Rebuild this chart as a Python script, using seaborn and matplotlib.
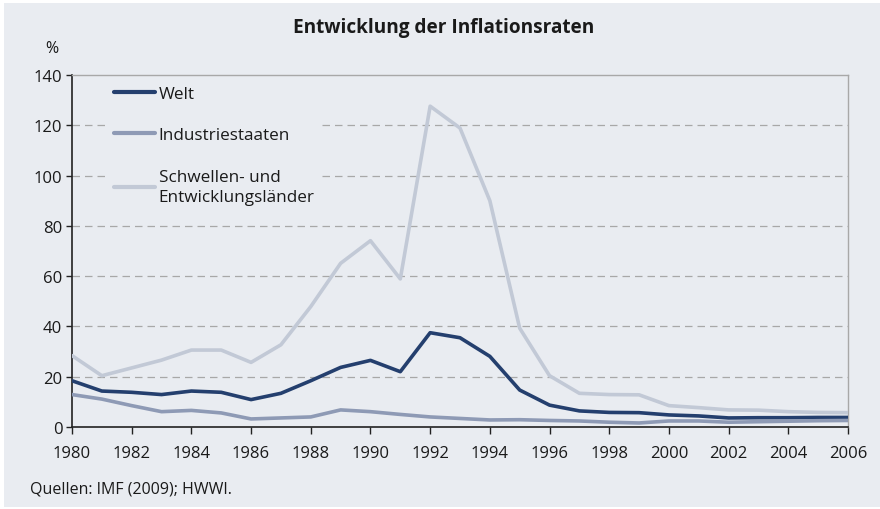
import matplotlib
matplotlib.use("Agg")
import matplotlib.pyplot as plt
import seaborn as sns
import pandas as pd
from matplotlib.patches import Rectangle

years = list(range(1980, 2007))
welt = [18.4, 14.3, 13.8, 12.9, 14.3, 13.8, 10.9, 13.4, 18.4, 23.7, 26.5, 22.0, 37.5, 35.5,
        28.1, 14.7, 8.7, 6.4, 5.8, 5.7, 4.8, 4.4, 3.6, 3.7, 3.7, 3.8, 3.8]
industrie = [12.9, 11.1, 8.5, 6.1, 6.6, 5.6, 3.2, 3.6, 4.0, 6.8, 6.1, 5.0, 4.0, 3.4,
             2.8, 2.9, 2.6, 2.4, 1.9, 1.6, 2.4, 2.4, 1.9, 2.1, 2.3, 2.5, 2.6]
schwellen = [28.4, 20.4, 23.5, 26.6, 30.6, 30.6, 25.7, 32.7, 47.9, 65.1, 74.1, 58.9, 127.6, 118.9,
             90.0, 39.3, 20.4, 13.4, 12.9, 12.8, 8.5, 7.7, 6.8, 6.7, 6.1, 5.8, 5.7]
series_names = ["Welt", "Industriestaaten", "Schwellen- und\nEntwicklungsländer"]
x_ticks = list(range(1980, 2007, 2))
y_ticks = list(range(0, 141, 20))

bg = "#e9ecf1"
colors = ["#243f6e", "#8e9ab5", "#c2c9d6"]

df = pd.concat([
    pd.DataFrame({"Jahr": years, "Wert": vals, "Serie": name})
    for name, vals in zip(series_names, [welt, industrie, schwellen])
])

sns.set_style("white", rc={"xtick.bottom": True, "ytick.left": True,
                           "xtick.major.size": 5, "ytick.major.size": 4})
plt.rcParams["font.family"] = ["Open Sans", "DejaVu Sans"]

fig = plt.figure(figsize=(8.8, 5.1), dpi=100, facecolor="white")
fig.patches.append(Rectangle((4 / 880, 2 / 510), 1, (510 - 6) / 510, transform=fig.transFigure,
                             facecolor=bg, edgecolor="none", zorder=-10))
ax = fig.add_axes([72 / 880, (510 - 428) / 510, (848 - 72) / 880, (428 - 76) / 510])
ax.set_facecolor(bg)

sns.lineplot(data=df, x="Jahr", y="Wert", hue="Serie", palette=colors,
             hue_order=series_names, linewidth=2.6, ax=ax, legend=True, zorder=3)

ax.set_xlim(1980, 2006)
ax.set_ylim(0, 140)
ax.set_xticks(x_ticks)
ax.set_yticks(y_ticks)
ax.set_xticklabels([str(t) for t in x_ticks], fontsize=12, color="#1a1a1a")
ax.set_yticklabels([str(t) for t in y_ticks], fontsize=12, color="#1a1a1a")
ax.tick_params(axis="x", direction="out", length=5, width=1, color="#222222", pad=8, bottom=True)
ax.tick_params(axis="y", direction="out", length=4, width=1, color="#222222", pad=3, left=True)
ax.set_xlabel("")
ax.set_ylabel("")

for yv in y_ticks[1:-1]:
    ax.axhline(yv, color="#a8a8a8", lw=0.9, ls=(0, (6, 4)), zorder=1)

for side in ["top", "right"]:
    ax.spines[side].set_color("#a8a8a8")
    ax.spines[side].set_linewidth(1)
for side in ["left", "bottom"]:
    ax.spines[side].set_color("#222222")
    ax.spines[side].set_linewidth(1.2)

leg = ax.legend(loc="upper left", bbox_to_anchor=(0.047, 0.984), frameon=True,
                fontsize=12.3, handlelength=2.45, handletextpad=0.18, labelspacing=1.5,
                borderaxespad=0, borderpad=0.3, fancybox=False)
leg.get_frame().set_facecolor(bg)
leg.get_frame().set_edgecolor("none")
leg.get_frame().set_alpha(1)
leg.set_zorder(5)
for h in leg.get_lines():
    h.set_linewidth(3)
for t in leg.get_texts():
    t.set_color("#1a1a1a")
    t.set_linespacing(1.35)

fig.text(444 / 880, 1 - 28 / 510, "Entwicklung der Inflationsraten", ha="center", va="center",
         fontsize=13.7, fontweight="bold", color="#1a1a1a")
fig.text(52 / 880, 1 - 49 / 510, "%", ha="center", va="center", fontsize=11.5, color="#1a1a1a")
fig.text(30 / 880, 1 - 490 / 510, "Quellen: IMF (2009); HWWI.", ha="left", va="center",
         fontsize=11.5, color="#1a1a1a")

fig.savefig("out.png", dpi=100, facecolor=fig.get_facecolor())
